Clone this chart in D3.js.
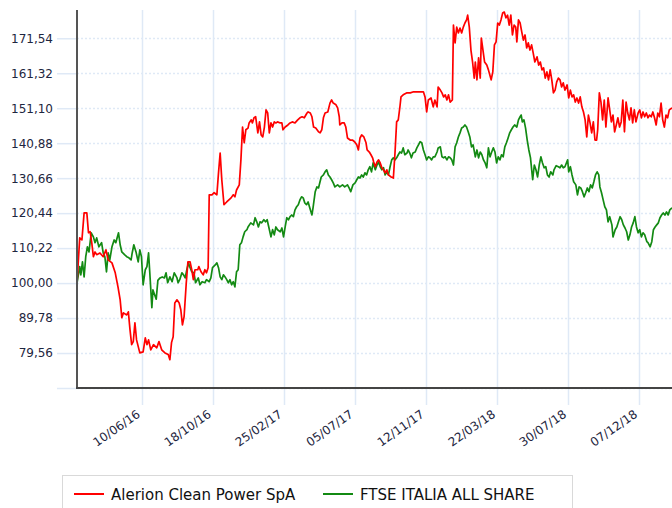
<!DOCTYPE html>
<meta charset="utf-8">
<script src="https://d3js.org/d3.v7.min.js"></script>
<style>
  body { margin: 0; background: #fff; }
  svg { display: block; font-family: "DejaVu Sans", Verdana, sans-serif; }
</style>
<body>
<div id="my_dataviz"></div>
<script>

  // series: [days since first quote, value rebased to 100]
  var startDate = new Date(2016, 1, 12);

  var alerion = [[0,100],[5,113.2],[9,112.6],[13,120.5],[18,120.5],[21,114.7],[24,115.0],[27,111.8],[30,107.7],[33,109.1],[36,108.3],[42,108.8],[48,107.7],[53,109.7],[57,106.8],[64,105.9],[70,103.0],[75,98.9],[79,95.1],[82,89.9],[85,91.3],[91,90.7],[94,91.6],[97,86.4],[100,82.0],[103,82.9],[106,88.4],[109,83.4],[115,79.6],[121,79.9],[125,84.0],[128,82.0],[131,83.4],[135,80.5],[140,82.0],[146,81.1],[150,82.9],[155,80.5],[161,79.6],[167,79.1],[170,77.6],[173,82.6],[176,84.3],[179,94.2],[183,95.1],[187,94.2],[190,92.2],[193,87.8],[196,90.2],[200,100.1],[203,106.2],[207,106.2],[210,103.9],[213,101.0],[216,103.9],[221,103.9],[223,104.8],[227,103.3],[231,102.4],[234,103.9],[237,103.0],[240,104.5],[242,125.8],[247,125.8],[251,126.4],[256,125.8],[259,132.2],[262,138.0],[265,130.2],[269,122.9],[274,123.7],[278,124.3],[282,124.9],[286,125.8],[289,125.2],[292,127.2],[297,128.7],[300,136.0],[303,145.6],[306,141.0],[309,144.8],[313,145.3],[315,146.8],[319,147.7],[321,146.8],[324,148.3],[327,148.6],[331,143.9],[334,147.1],[337,143.3],[340,142.7],[343,145.6],[346,150.6],[349,149.7],[352,143.9],[355,146.8],[358,145.6],[361,147.1],[364,146.8],[367,147.1],[372,146.8],[375,146.8],[377,144.8],[381,145.6],[386,146.2],[390,146.8],[394,147.1],[399,146.8],[404,147.7],[408,148.3],[412,148.6],[416,148.3],[421,149.7],[423,150.0],[427,149.7],[430,148.6],[433,145.6],[437,145.3],[442,144.2],[445,143.9],[448,144.8],[451,148.3],[454,149.7],[459,150.0],[463,152.6],[466,153.5],[469,152.6],[474,152.1],[477,151.2],[480,148.6],[481,146.2],[485,146.8],[489,146.8],[492,145.6],[495,142.4],[500,141.8],[504,141.8],[508,141.3],[512,140.4],[515,138.9],[518,142.4],[521,143.3],[525,142.7],[529,141.0],[531,138.9],[535,138.3],[538,137.5],[541,136.6],[543,135.4],[546,134.0],[549,135.4],[552,136.0],[555,135.1],[558,133.7],[561,133.1],[564,132.2],[567,133.1],[570,131.6],[575,131.0],[579,130.7],[582,138.0],[585,147.1],[588,147.7],[591,151.5],[593,154.4],[597,155.0],[604,155.6],[610,155.6],[616,155.9],[622,155.9],[628,155.9],[634,155.9],[637,154.4],[640,150.0],[643,153.5],[648,154.1],[652,151.5],[655,153.5],[659,151.5],[661,157.3],[665,156.4],[668,155.6],[671,154.4],[674,155.0],[677,153.5],[680,155.0],[683,152.9],[687,153.5],[689,175.4],[692,170.2],[695,174.8],[698,173.1],[701,174.5],[704,173.1],[707,174.8],[710,176.0],[713,176.9],[715,178.3],[718,174.8],[721,168.1],[724,164.6],[727,159.9],[729,164.6],[732,159.4],[735,165.8],[738,159.9],[740,171.6],[743,168.1],[746,164.6],[750,163.7],[753,162.3],[758,159.4],[761,161.7],[764,169.6],[767,170.5],[770,176.0],[773,175.4],[776,176.9],[779,178.9],[782,179.2],[785,177.5],[788,178.3],[791,175.4],[794,178.3],[797,172.5],[800,175.4],[803,174.8],[805,170.5],[808,176.9],[811,176.0],[814,173.4],[817,171.0],[820,172.5],[823,168.7],[826,170.2],[829,168.1],[832,169.6],[835,167.2],[838,164.6],[842,166.1],[845,163.7],[848,164.6],[851,162.3],[854,162.9],[857,159.9],[860,161.7],[863,159.4],[866,162.3],[869,159.4],[872,155.6],[875,156.4],[878,158.8],[881,159.9],[884,159.4],[887,157.3],[890,158.5],[893,156.4],[897,157.9],[900,154.1],[903,156.4],[906,154.4],[909,155.0],[912,152.9],[915,154.1],[918,152.6],[921,154.4],[924,151.5],[927,150.0],[930,147.7],[933,142.7],[936,149.1],[939,146.8],[942,143.9],[945,147.1],[948,141.8],[951,141.8],[953,144.8],[956,155.6],[959,152.9],[962,147.7],[965,153.5],[968,145.6],[972,154.1],[975,150.6],[978,147.1],[981,149.1],[984,144.2],[987,146.2],[990,148.3],[993,145.6],[996,147.1],[999,153.5],[1002,144.2],[1005,152.9],[1008,149.7],[1011,147.7],[1014,151.2],[1017,146.8],[1020,150.6],[1023,147.1],[1027,149.7],[1030,150.6],[1033,148.3],[1036,150.0],[1039,148.6],[1042,149.7],[1045,148.3],[1048,149.1],[1051,148.6],[1054,150.0],[1057,148.3],[1060,146.2],[1063,149.7],[1066,148.6],[1069,152.6],[1072,147.7],[1075,145.6],[1078,149.1],[1081,148.3],[1084,150.6],[1089,151.2]];

  var ftse = [[0,100],[5,104.8],[7,102.4],[10,106.2],[13,101.8],[16,107.7],[19,110.6],[22,109.1],[26,114.7],[30,113.5],[33,111.8],[36,113.2],[40,110.6],[45,111.8],[48,108.8],[51,107.7],[54,103.3],[57,108.8],[60,106.8],[64,110.6],[68,112.6],[71,111.8],[76,114.7],[79,111.2],[82,109.1],[87,108.3],[91,107.7],[95,107.4],[99,106.8],[101,108.8],[104,111.2],[108,109.1],[112,106.2],[115,109.7],[118,107.7],[121,99.5],[125,103.9],[128,104.8],[131,108.8],[134,101.0],[137,92.8],[139,98.0],[145,95.3],[148,100.8],[152,101.5],[156,101.8],[160,101.5],[163,103.0],[166,100.1],[170,101.8],[174,100.4],[178,103.0],[183,101.5],[185,100.1],[188,101.0],[192,103.0],[195,102.4],[198,101.5],[201,103.9],[204,105.9],[207,104.5],[210,103.3],[214,103.0],[217,100.1],[222,101.5],[225,99.5],[229,100.4],[234,100.1],[237,101.0],[242,100.4],[245,101.5],[248,104.5],[253,105.3],[256,105.9],[259,104.5],[262,101.8],[265,101.0],[268,102.4],[271,101.8],[274,101.0],[277,100.1],[280,101.0],[283,99.5],[286,100.4],[289,98.9],[292,103.3],[295,103.9],[298,111.2],[301,111.8],[304,113.5],[307,115.0],[311,115.6],[313,116.4],[318,117.6],[323,117.0],[326,119.1],[329,117.9],[332,116.4],[335,117.9],[338,117.6],[342,118.5],[345,117.9],[348,118.5],[351,116.4],[355,113.5],[358,115.6],[361,114.1],[364,116.4],[367,115.6],[372,115.0],[375,116.1],[378,113.5],[381,116.4],[384,119.1],[387,118.5],[390,119.4],[393,119.9],[396,119.4],[399,121.4],[402,122.3],[405,122.9],[408,124.3],[411,125.2],[414,124.9],[417,123.4],[420,122.9],[423,123.7],[426,122.0],[430,119.9],[432,122.0],[436,126.7],[439,128.1],[442,127.8],[447,131.0],[451,131.6],[454,132.5],[457,133.1],[460,131.6],[463,131.0],[466,130.2],[469,129.3],[472,128.1],[477,128.7],[481,128.1],[486,128.7],[490,128.1],[495,128.7],[498,127.8],[501,126.7],[505,128.7],[509,129.3],[512,130.2],[515,131.0],[518,130.7],[521,131.6],[524,131.0],[527,132.2],[530,131.6],[533,133.1],[536,134.0],[539,132.5],[542,135.1],[546,133.1],[549,134.5],[552,135.4],[555,134.0],[558,133.1],[561,133.7],[564,131.6],[567,132.5],[570,131.6],[573,134.0],[576,136.0],[579,136.6],[582,136.0],[585,136.6],[588,137.5],[591,138.3],[594,138.0],[597,139.5],[600,137.5],[604,138.0],[606,138.9],[609,138.0],[612,136.6],[615,138.0],[619,138.3],[622,139.5],[625,140.4],[628,141.3],[631,141.0],[634,138.9],[637,137.5],[640,136.0],[643,136.9],[646,136.6],[649,136.0],[652,136.9],[655,136.9],[659,138.3],[661,139.5],[665,139.8],[668,136.9],[671,136.6],[674,136.9],[677,136.0],[680,136.9],[683,136.6],[686,136.0],[689,134.5],[692,139.8],[695,141.0],[698,142.7],[701,143.9],[704,145.3],[707,145.6],[710,146.2],[713,145.6],[716,144.2],[719,142.7],[722,139.8],[725,140.4],[729,136.9],[732,138.9],[735,136.6],[738,138.3],[741,137.5],[744,136.0],[747,135.1],[750,133.7],[753,139.5],[756,136.9],[759,138.3],[762,139.5],[765,138.3],[768,135.1],[771,136.9],[774,136.0],[777,137.5],[780,136.9],[783,139.8],[786,141.0],[789,142.4],[792,143.9],[795,144.8],[798,145.6],[801,146.2],[805,145.6],[808,147.7],[811,148.6],[813,149.1],[815,147.1],[818,147.7],[821,145.3],[824,141.8],[827,138.9],[830,136.6],[834,130.2],[837,134.5],[840,133.1],[843,131.0],[846,134.5],[849,136.9],[852,135.1],[855,133.7],[858,134.0],[861,131.6],[864,131.0],[867,132.5],[871,131.6],[873,133.1],[877,134.3],[881,134.0],[884,133.7],[887,134.5],[890,133.7],[893,134.0],[898,136.0],[900,132.5],[903,134.0],[906,131.6],[909,129.6],[913,128.7],[916,125.8],[919,128.1],[922,127.8],[925,126.7],[928,125.2],[931,126.4],[934,127.8],[937,126.7],[940,128.7],[943,127.8],[946,129.6],[949,131.6],[952,132.5],[955,131.6],[957,128.1],[960,126.4],[963,124.3],[966,122.3],[969,121.4],[972,117.9],[975,119.4],[979,117.0],[981,113.5],[985,115.6],[988,116.4],[991,117.9],[994,119.4],[997,118.5],[1000,117.0],[1003,116.1],[1006,115.0],[1009,112.6],[1012,114.1],[1015,116.4],[1018,117.6],[1021,119.4],[1024,116.4],[1027,114.7],[1030,115.6],[1033,113.5],[1036,114.7],[1039,114.1],[1043,112.1],[1045,111.8],[1049,110.6],[1052,112.1],[1055,115.6],[1058,116.4],[1061,117.0],[1064,117.6],[1067,119.1],[1070,119.9],[1073,120.5],[1076,119.9],[1079,120.8],[1082,119.9],[1085,121.4],[1089,122.0]];

  var yTicks = [69.34, 79.56, 89.78, 100.00, 110.22, 120.44, 130.66, 140.88, 151.10, 161.32, 171.54];
  var xTicks = ["2016-06-10", "2016-10-18", "2017-02-25", "2017-07-05", "2017-11-12", "2018-03-22", "2018-07-30", "2018-12-07"];
  var seriesNames = ["Alerion Clean Power SpA", "FTSE ITALIA ALL SHARE"];
  var seriesColors = ["#ff0000", "#138a13"];

  var width = 672, height = 508;
  var plotLeft = 77, plotTop = 10, plotRight = 672, plotBottom = 388;

  var svg = d3.select("#my_dataviz")
    .append("svg")
    .attr("width", width)
    .attr("height", height);

  var parse = d3.timeParse("%Y-%m-%d");
  var dayToDate = function (d) { return d3.timeDay.offset(startDate, d); };

  var x = d3.scaleTime()
    .domain([startDate, dayToDate(1089)])
    .range([plotLeft, plotRight]);

  var y = d3.scaleLinear()
    .domain([69.34, 179.8])
    .range([plotBottom, plotTop]);

  var gridColor = "#dfe9f6";
  var fmt = d3.format(".2f");

  // horizontal grid (dotted inside the plot)
  svg.append("g")
    .selectAll("line")
    .data(yTicks)
    .enter()
    .append("line")
    .attr("x1", plotLeft)
    .attr("x2", plotRight)
    .attr("y1", function (d) { return Math.round(y(d)) + 0.5; })
    .attr("y2", function (d) { return Math.round(y(d)) + 0.5; })
    .attr("stroke", gridColor)
    .attr("stroke-width", 1.5)
    .attr("stroke-dasharray", "2,2");

  // y axis ticks + labels
  var yAxis = svg.append("g")
    .attr("transform", "translate(" + plotLeft + ",0)")
    .call(d3.axisLeft(y)
      .tickValues(yTicks)
      .tickSize(20)
      .tickPadding(4)
      .tickFormat(function (d, i) { return i === 0 ? "" : fmt(d).replace(".", ","); }));
  yAxis.select(".domain").remove();
  yAxis.selectAll(".tick line").attr("stroke", gridColor).attr("stroke-width", 1.5);
  yAxis.selectAll(".tick text")
    .style("font-size", "12px")
    .style("font-family", "DejaVu Sans, sans-serif")
    .attr("fill", "#1e2640");

  // vertical grid + x ticks
  var xDates = xTicks.map(parse);
  svg.append("g")
    .selectAll("line")
    .data(xDates)
    .enter()
    .append("line")
    .attr("x1", function (d) { return Math.round(x(d)) + 0.5; })
    .attr("x2", function (d) { return Math.round(x(d)) + 0.5; })
    .attr("y1", plotTop)
    .attr("y2", plotBottom + 17)
    .attr("stroke", gridColor)
    .attr("stroke-width", 1.5);

  svg.append("g")
    .selectAll("text")
    .data(xDates)
    .enter()
    .append("text")
    .attr("transform", function (d) { return "translate(" + (x(d) - 1) + "," + (plotBottom + 28) + ")rotate(-35)"; })
    .attr("text-anchor", "end")
    .style("font-size", "12px")
    .attr("fill", "#1e2640")
    .text(d3.timeFormat("%d/%m/%y"));

  // lines
  svg.append("clipPath").attr("id", "plotClip")
    .append("rect").attr("x", plotLeft).attr("y", 0).attr("width", plotRight - plotLeft).attr("height", plotBottom);

  var line = d3.line()
    .x(function (d) { return x(dayToDate(d[0])); })
    .y(function (d) { return y(d[1]); })
    .curve(d3.curveLinear);

  [ftse, alerion].forEach(function (s, i) {
    svg.append("path")
      .datum(s)
      .attr("clip-path", "url(#plotClip)")
      .attr("d", line)
      .attr("fill", "none")
      .attr("stroke", i === 0 ? seriesColors[1] : seriesColors[0])
      .attr("stroke-width", 1.7)
      .attr("stroke-linejoin", "round");
  });

  // axis lines
  svg.append("line")
    .attr("x1", plotLeft).attr("x2", plotLeft)
    .attr("y1", plotTop).attr("y2", plotBottom + 1)
    .attr("stroke", "#555").attr("stroke-width", 2);
  svg.append("line")
    .attr("x1", plotLeft - 1).attr("x2", plotRight)
    .attr("y1", plotBottom).attr("y2", plotBottom)
    .attr("stroke", "#444").attr("stroke-width", 2);

  // legend
  var legend = svg.append("g");
  legend.append("rect")
    .attr("x", 62.5).attr("y", 475.5)
    .attr("width", 510).attr("height", 45)
    .attr("fill", "#fff")
    .attr("stroke", "#d9d9d9");

  var legendX = [74, 323];
  seriesNames.forEach(function (name, i) {
    legend.append("line")
      .attr("x1", legendX[i]).attr("x2", legendX[i] + 30)
      .attr("y1", 494).attr("y2", 494)
      .attr("stroke", seriesColors[i])
      .attr("stroke-width", 2);
    legend.append("text")
      .attr("x", legendX[i] + 37)
      .attr("y", 499.5)
      .style("font-size", "15px")
      .attr("fill", "#111")
      .text(name);
  });

</script>
</body>
